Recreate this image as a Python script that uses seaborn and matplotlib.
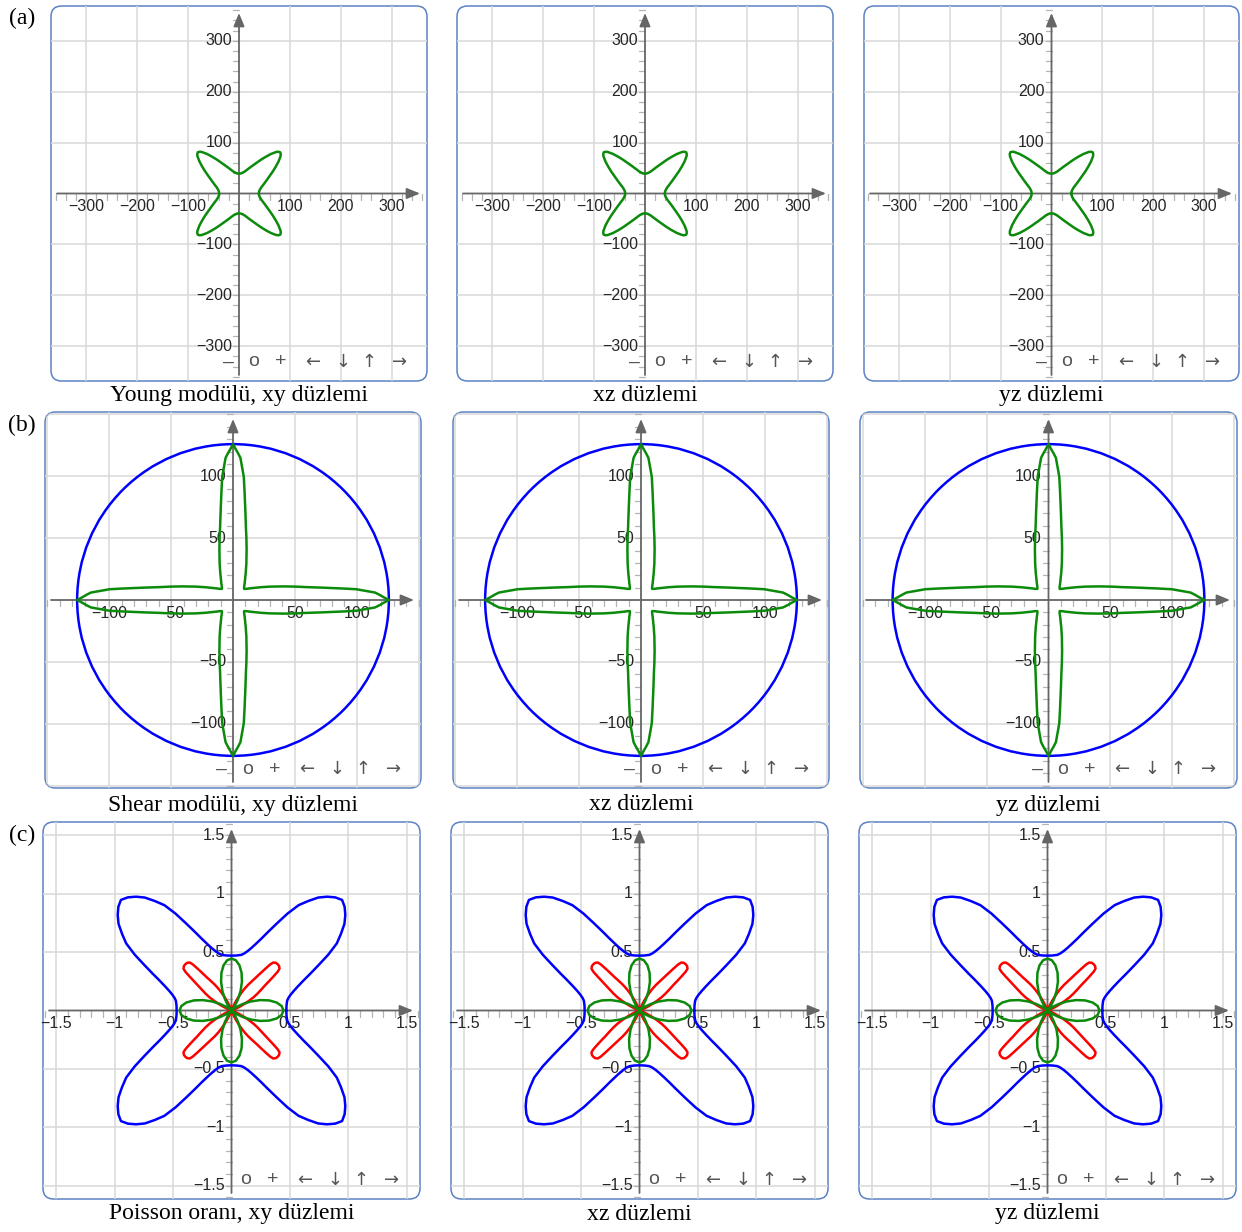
import numpy as np
import pandas as pd
import seaborn as sns
import matplotlib.pyplot as plt
from matplotlib.patches import FancyBboxPatch, Circle

# =============================================
# Values.
# Angles in degrees over one eighth (0-45), radii in plot units;
# the curves are mirrored to the other octants (cubic symmetry).
young_theta = [0, 5, 10, 15, 20, 25, 30, 33, 36, 39, 42, 43.5, 45]
young_r = [39, 39.5, 41.5, 45, 51, 59, 70, 79, 89, 100, 110, 113, 114.5]

shear_min_theta = [0, 1, 2, 3, 4, 5, 6, 8, 10, 12, 15, 20, 25, 30, 35, 40, 45]
shear_min_r = [126, 122, 118.6, 115, 107, 100, 89, 72, 60, 52, 42.5, 31.6, 24.4,
               19.6, 16.4, 14, 12.7]
shear_max_r = 126

poisson_max_theta = [0, 5, 10, 12.5, 15, 17.5, 20, 22.5, 25, 27.5, 30, 32.5, 35,
                     37.5, 40, 42.5, 45]
poisson_max_r = [0.47, 0.473, 0.484, 0.50, 0.525, 0.56, 0.606, 0.665, 0.744, 0.84,
                 0.958, 1.07, 1.145, 1.22, 1.273, 1.315, 1.34]

poisson_pos_theta = [0, 5, 10, 15, 20, 25, 30, 35, 40, 45]
poisson_pos_r = [0.445, 0.432, 0.393, 0.334, 0.261, 0.184, 0.111, 0.052, 0.013, 0]

poisson_neg_theta = [0, 10, 15, 19, 21, 23, 25, 27, 29, 31, 33, 35, 37, 38, 39, 40,
                     41, 43, 45]
poisson_neg_r = [0, 0, 0, 0.015, 0.03, 0.05, 0.08, 0.12, 0.17, 0.22, 0.265, 0.31,
                 0.365, 0.41, 0.46, 0.515, 0.545, 0.558, 0.56]

young_ticks = [-300, -200, -100, 100, 200, 300]
shear_ticks = [-100, -50, 50, 100]
poisson_ticks = [-1.5, -1, -0.5, 0.5, 1, 1.5]

captions_a = ['Young modülü, xy düzlemi', 'xz düzlemi', 'yz düzlemi']
captions_b = ['Shear modülü, xy düzlemi', 'xz düzlemi', 'yz düzlemi']
captions_c = ['Poisson oranı, xy düzlemi', 'xz düzlemi', 'yz düzlemi']

# =============================================
# Plotting parameters
W, H = 1242, 1232
border_color = '#5b82c2'
grid_color = '#d8d8d8'
axis_color = '#666666'
label_color = '#262626'
curve_lw = 1.8

sns.set_theme(style="white")
plt.rcParams['font.family'] = ['Liberation Sans', 'DejaVu Sans']
plt.rcParams['axes.unicode_minus'] = True

rows = [
    dict(tag='(a)', tag_y=18, cap_y=395, ppu=0.509, major=100, minor=20,
         ticks=young_ticks, captions=captions_a, minus_btn=True,
         boxes=[(51, 6, 427, 381), (457, 6, 833, 381), (864, 6, 1239, 381)]),
    dict(tag='(b)', tag_y=425, cap_y=805, ppu=1.237, major=50, minor=10,
         ticks=shear_ticks, captions=captions_b, minus_btn=True,
         boxes=[(45, 412, 421, 788), (453, 412, 829, 788), (860, 412, 1237, 788)]),
    dict(tag='(c)', tag_y=835, cap_y=1214, ppu=116.7, major=0.5, minor=0.1,
         ticks=poisson_ticks, captions=captions_c, minus_btn=False,
         boxes=[(43, 822, 420, 1199), (451, 822, 828, 1199), (859, 822, 1236, 1199)]),
]


def full_curve(theta, r):
    # mirror one octant to the whole turn, return cartesian points
    t = np.asarray(theta, float)
    r = np.asarray(r, float)
    t8 = np.concatenate([t, 90 - t[::-1][1:]])
    r8 = np.concatenate([r, r[::-1][1:]])
    tq = np.concatenate([t8] + [t8[1:] + 90 * k for k in (1, 2, 3)])
    rq = np.concatenate([r8] + [r8[1:]] * 3)
    rad = np.deg2rad(tq)
    return pd.DataFrame({'x': rq * np.cos(rad), 'y': rq * np.sin(rad)})


def fmt(v):
    return ('%g' % v).replace('-', '\u2212')


def draw_panel(ax, row, w, h, kind):
    ppu = row['ppu']
    lx, ly = (w / 2) / ppu, (h / 2) / ppu
    ax.set_xlim(-lx, lx)
    ax.set_ylim(-ly, ly)
    ax.set_axis_off()

    box = FancyBboxPatch((0, 0), 1, 1, boxstyle="round,pad=0,rounding_size=0.028",
                         transform=ax.transAxes, fc='white', ec=border_color, lw=1.1,
                         zorder=0, clip_on=False)
    ax.add_patch(box)

    # grid
    n = int(np.floor(lx / row['major']))
    for k in range(-n, n + 1):
        if k == 0:
            continue
        v = k * row['major']
        l1 = ax.axvline(v, color=grid_color, lw=1.1, zorder=1)
        l2 = ax.axhline(v, color=grid_color, lw=1.1, zorder=1)
        l1.set_clip_path(box)
        l2.set_clip_path(box)

    # minor ticks on the axes
    tl = 6 / ppu
    m = int(np.floor(lx / row['minor']))
    for k in range(-m, m + 1):
        v = k * row['minor']
        if k == 0:
            continue
        ax.plot([v, v], [0, -tl], color='#b4b4b4', lw=0.9, zorder=2)
        ax.plot([0, -tl], [v, v], color='#b4b4b4', lw=0.9, zorder=2)

    # axes with arrow heads
    arrow = dict(arrowstyle='-|>,head_length=0.8,head_width=0.33', color=axis_color,
                 lw=1.3, mutation_scale=10, shrinkA=0, shrinkB=0)
    ax.annotate('', xy=(lx - 7 / ppu, 0), xytext=(-lx + 6 / ppu, 0),
                arrowprops=arrow, zorder=3)
    ax.annotate('', xy=(0, ly - 7 / ppu), xytext=(0, -ly + 6 / ppu),
                arrowprops=arrow, zorder=3)

    # tick labels
    for v in row['ticks']:
        ax.annotate(fmt(v), xy=(v, 0), xytext=(0, -9.5), textcoords='offset points',
                    ha='center', va='center', fontsize=11.5, color=label_color, zorder=4)
        ax.annotate(fmt(v), xy=(0, v), xytext=(-5, 0), textcoords='offset points',
                    ha='right', va='center', fontsize=11.5, color=label_color, zorder=4)

    # curves
    if kind == 'a':
        sns.lineplot(data=full_curve(young_theta, young_r), x='x', y='y', sort=False,
                     estimator=None, color='#0b8a0b', lw=curve_lw, ax=ax, zorder=5)
    elif kind == 'b':
        ax.add_patch(Circle((0, 0), shear_max_r, fill=False, ec='#0000ff',
                            lw=curve_lw, zorder=5))
        sns.lineplot(data=full_curve(shear_min_theta, shear_min_r), x='x', y='y',
                     sort=False, estimator=None, color='#0b8a0b', lw=curve_lw, ax=ax,
                     zorder=6)
    else:
        sns.lineplot(data=full_curve(poisson_max_theta, poisson_max_r), x='x', y='y',
                     sort=False, estimator=None, color='#0000ff', lw=curve_lw, ax=ax,
                     zorder=5)
        sns.lineplot(data=full_curve(poisson_neg_theta, poisson_neg_r), x='x', y='y',
                     sort=False, estimator=None, color='#ff0000', lw=curve_lw, ax=ax,
                     zorder=6)
        sns.lineplot(data=full_curve(poisson_pos_theta, poisson_pos_r), x='x', y='y',
                     sort=False, estimator=None, color='#0b8a0b', lw=curve_lw, ax=ax,
                     zorder=7)
    ax.set_xlabel('')
    ax.set_ylabel('')

    # navigation buttons
    btn_x = [177, 203, 230, 262, 292, 318, 349]
    btn_s = ['\u2013', 'o', '+', '\u2190', '\u2193', '\u2191', '\u2192']
    for bx, bs in zip(btn_x, btn_s):
        if bs == '\u2013' and not row['minus_btn']:
            continue
        if bs in '\u2190\u2193\u2191\u2192':
            fam, fs = ['DejaVu Sans'], 13
        else:
            fam, fs = ['Liberation Sans', 'DejaVu Sans'], 14
        ax.text(bx / w, 19 / h, bs, transform=ax.transAxes, ha='center', va='center',
                fontsize=fs, color='#555555', zorder=8, family=fam)


fig = plt.figure(figsize=(W / 100, H / 100), dpi=100)

for row, kind in zip(rows, ['a', 'b', 'c']):
    for (l, t, r, b), cap in zip(row['boxes'], row['captions']):
        w, h = r - l, b - t
        ax = fig.add_axes([l / W, 1 - b / H, w / W, h / H])
        draw_panel(ax, row, w, h, kind)
        fig.text((l + r) / 2 / W, 1 - row['cap_y'] / H, cap, ha='center', va='center',
                 fontsize=17, family=['Liberation Serif', 'DejaVu Serif'], color='black')
    fig.text(22 / W, 1 - row['tag_y'] / H, row['tag'], ha='center', va='center',
             fontsize=17, family=['Liberation Serif', 'DejaVu Serif'], color='black')

plt.savefig('out.png', dpi=100)
plt.close()
